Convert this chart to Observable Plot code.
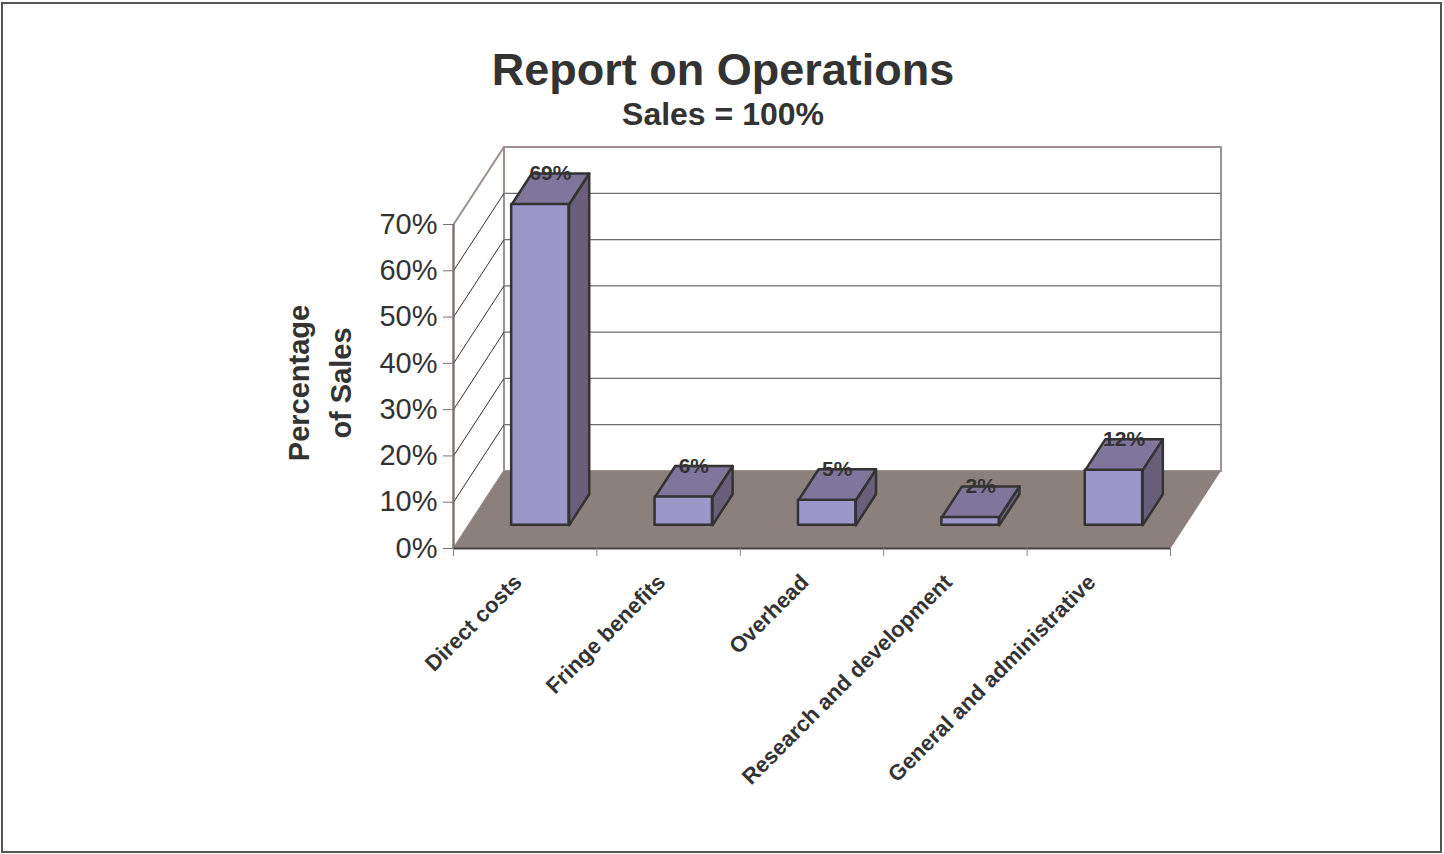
<!DOCTYPE html>
<html>
<head>
<meta charset="utf-8">
<script src="https://cdn.jsdelivr.net/npm/d3@7"></script>
<script src="https://cdn.jsdelivr.net/npm/@observablehq/plot@0.6"></script>
<style>
  html, body { margin: 0; padding: 0; background: #fff; }
  body { width: 1444px; height: 854px; position: relative; overflow: hidden;
         font-family: "Liberation Sans", Arial, sans-serif; color: #333; }
  #frame { position: absolute; left: 1px; top: 2px; width: 1441px; height: 851px;
           box-sizing: border-box; border: 2px solid #555; pointer-events: none; }
  #title { position: absolute; left: 0; width: 1446px; top: 47px; text-align: center;
           font-weight: bold; font-size: 45px; line-height: 45px; white-space: nowrap; }
  #subtitle { position: absolute; left: 0; width: 1446px; top: 98px; text-align: center;
              font-weight: bold; font-size: 32px; line-height: 32px; white-space: nowrap; }
  #ytitle { position: absolute; left: 170px; top: 341px; width: 300px; height: 84px;
            transform: rotate(-90deg); text-align: center; font-weight: bold;
            font-size: 29px; line-height: 42px; white-space: nowrap; }
  #chart { position: absolute; left: 0; top: 140px; }
</style>
</head>
<body>
<div id="title">Report on Operations</div>
<div id="subtitle">Sales = 100%</div>
<div id="ytitle">Percentage<br>of Sales</div>
<div id="chart"></div>
<div id="frame"></div>
<script>
// ---- data ----
const categories = ["Direct costs", "Fringe benefits", "Overhead", "Research and development", "General and administrative"];
const values = [69.3, 6.1, 5.4, 1.7, 11.9];
const yTicks = [0, 10, 20, 30, 40, 50, 60, 70];
const gridValues = [10, 20, 30, 40, 50, 60];

// ---- layout / style ----
const W = 1444, H = 714, ML = 453, MR = 274, MT = 84, MB = 306;
const xMax = categories.length, yMax = 70;
const depthPx = [50.5, 77.5];
const DX = depthPx[0] / ((W - ML - MR) / xMax);
const DY = depthPx[1] / ((H - MT - MB) / yMax);
const f0 = 0.3, f1 = 0.7;   // depth fractions of bars
const b0 = 0.3, b1 = 0.7;   // band fractions of bars

const wallStroke = "#9b918e", floorFill = "#8c807c";
const frontFill = "#9c97c9", topFill = "#80769b", sideFill = "#6a5f7a", outline = "#333";

const table = categories.map((c, i) => ({ i, cat: c, value: values[i] }));

function polyRows(id, pts) { return pts.map(([x, y]) => ({ id, x, y })); }

const backWall = polyRows("back", [[DX, DY], [xMax + DX, DY], [xMax + DX, yMax + DY], [DX, yMax + DY]]);
const sideWall = polyRows("side", [[0, 0], [DX, DY], [DX, yMax + DY], [0, yMax]]);
const floor = polyRows("floor", [[0, 0], [xMax, 0], [xMax + DX, DY], [DX, DY]]);

const topFaces = table.flatMap(d => polyRows("t" + d.i, [
  [d.i + b0 + f0 * DX, d.value + f0 * DY],
  [d.i + b1 + f0 * DX, d.value + f0 * DY],
  [d.i + b1 + f1 * DX, d.value + f1 * DY],
  [d.i + b0 + f1 * DX, d.value + f1 * DY]]));
const sideFaces = table.flatMap(d => polyRows("s" + d.i, [
  [d.i + b1 + f0 * DX, f0 * DY],
  [d.i + b1 + f1 * DX, f1 * DY],
  [d.i + b1 + f1 * DX, d.value + f1 * DY],
  [d.i + b1 + f0 * DX, d.value + f0 * DY]]));

const plot = Plot.plot({
  width: W, height: H,
  marginLeft: ML, marginRight: MR, marginTop: MT, marginBottom: MB,
  x: { type: "linear", domain: [0, xMax] },
  y: { type: "linear", domain: [0, yMax] },
  style: { fontFamily: '"Liberation Sans", Arial, sans-serif', fontSize: "22px", color: "#333",
           background: "transparent", overflow: "visible" },
  marks: [
    // walls
    Plot.line(backWall, { x: "x", y: "y", z: "id", curve: "linear-closed", fill: "#fff", stroke: wallStroke, strokeWidth: 2 }),
    Plot.ruleY(gridValues, { x1: DX, x2: xMax + DX, y: d => d + DY, stroke: "#6e6e6e", strokeWidth: 1.2 }),
    Plot.line(sideWall, { x: "x", y: "y", z: "id", curve: "linear-closed", fill: "#fff", stroke: wallStroke, strokeWidth: 2 }),
    Plot.link(gridValues, { x1: 0, y1: d => d, x2: DX, y2: d => d + DY, stroke: "#333", strokeWidth: 1 }),
    Plot.line(floor, { x: "x", y: "y", z: "id", curve: "linear-closed", fill: floorFill, stroke: "none" }),
    // axes
    Plot.ruleX([0], { y1: 0, y2: yMax, stroke: "#7a706c", strokeWidth: 2 }),
    Plot.ruleY([0], { x1: 0, x2: xMax, stroke: "#444", strokeWidth: 2 }),
    Plot.axisY({ ticks: yTicks, tickFormat: d => d + "%", tickSize: 10, tickPadding: 6,
                 fontSize: 29, label: null, stroke: "#7a706c" }),
    Plot.axisX({ ticks: d3.range(0, xMax + 1), tickFormat: () => "", tickSize: 8, label: null, stroke: "#888" }),
    // bars
    Plot.line(sideFaces, { x: "x", y: "y", z: "id", curve: "linear-closed", fill: sideFill, stroke: outline, strokeWidth: 2.5, strokeLinejoin: "round" }),
    Plot.line(topFaces, { x: "x", y: "y", z: "id", curve: "linear-closed", fill: topFill, stroke: outline, strokeWidth: 2.5, strokeLinejoin: "round" }),
    Plot.rect(table, { x1: d => d.i + b0 + f0 * DX, x2: d => d.i + b1 + f0 * DX, y1: f0 * DY, y2: d => d.value + f0 * DY,
                       fill: frontFill, stroke: outline, strokeWidth: 2.5, strokeLinejoin: "round" }),
    // value labels
    Plot.text(table, { x: d => d.i + 0.5 + 0.5 * DX, y: d => d.value + 0.7 * DY, text: d => Math.round(d.value) + "%",
                       fontSize: 21, fontWeight: "bold", fill: "#333" }),
    // category labels
    Plot.text(table, { x: d => d.i + 0.5, y: 0, text: "cat", rotate: -45, textAnchor: "end",
                       dx: -7, dy: 30, fontSize: 22, fontWeight: "bold", fill: "#333" })
  ]
});
document.getElementById("chart").appendChild(plot);
</script>
</body>
</html>
